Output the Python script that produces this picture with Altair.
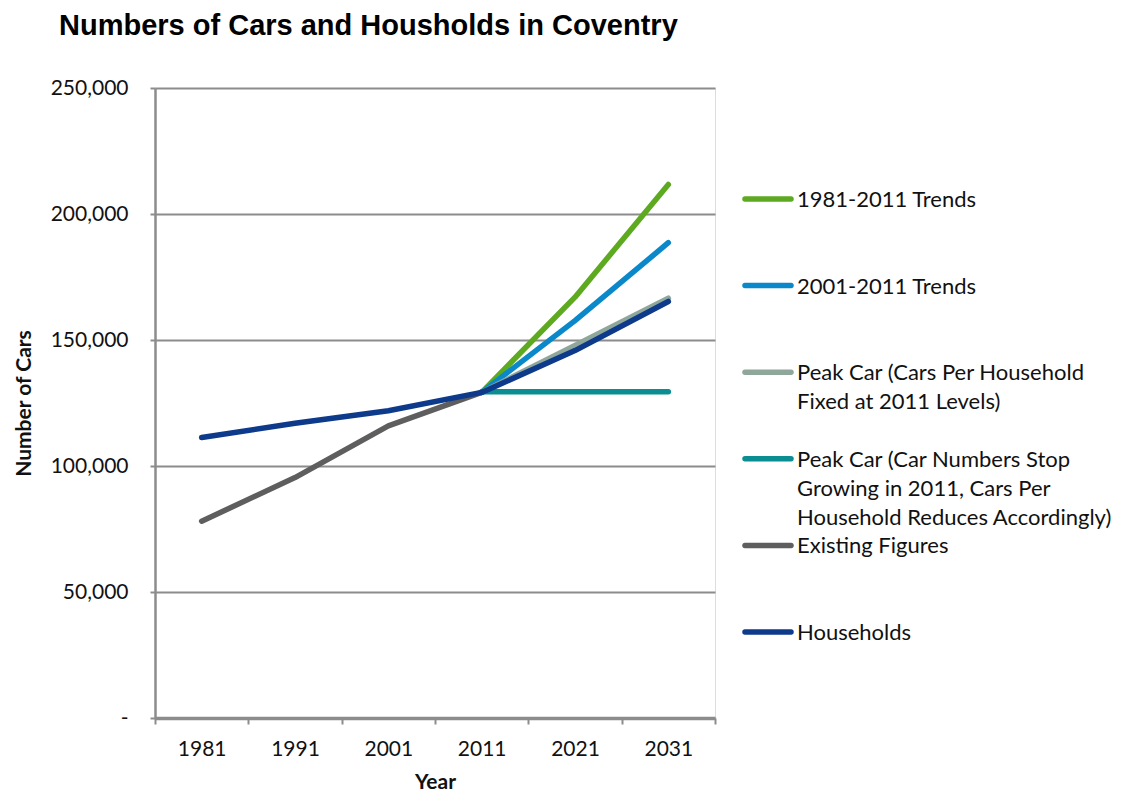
import altair as alt
import pandas as pd

# ---- data ----
years = ["1981", "1991", "2001", "2011", "2021", "2031"]
series_names = [
    "1981-2011 Trends",
    "2001-2011 Trends",
    "Peak Car (Cars Per Household Fixed at 2011 Levels)",
    "Peak Car (Car Numbers Stop Growing in 2011, Cars Per Household Reduces Accordingly)",
    "Existing Figures",
    "Households",
]
legend_labels = [
    "1981-2011 Trends",
    "2001-2011 Trends",
    "Peak Car (Cars Per Household\nFixed at 2011 Levels)",
    "Peak Car (Car Numbers Stop\nGrowing in 2011, Cars Per\nHousehold Reduces Accordingly)",
    "Existing Figures",
    "Households",
]
colors = ["#5DA920", "#0A88C9", "#8FA69B", "#0B8E92", "#5E5E5E", "#0D3A8A"]

trend_1981_2011 = [None, None, None, 129200, 167000, 211700]
trend_2001_2011 = [None, None, None, 129200, 157700, 188600]
peak_fixed = [None, None, None, 129200, 147800, 166600]
peak_stop = [None, None, None, 129500, 129500, 129500]
existing = [78100, 95400, 115900, 129200, None, None]
households = [111300, 117000, 121900, 129200, 145800, 165300]

all_values = [trend_1981_2011, trend_2001_2011, peak_fixed, peak_stop, existing, households]

rows = []
for name, vals in zip(series_names, all_values):
    for y, v in zip(years, vals):
        if v is not None:
            rows.append({"series": name, "year": y, "value": v})
df = pd.DataFrame(rows)

leg_df = pd.DataFrame({
    "series": series_names,
    "label": legend_labels,
    "row": list(range(len(series_names))),
})

LABEL_FONT = "Lato"
GRID = "#8C8C8C"

x_enc = alt.X(
    "year:O",
    scale=alt.Scale(type="band", domain=years, paddingInner=0, paddingOuter=0),
    bandPosition=0.5,
    axis=alt.Axis(
        title="Year",
        labelAngle=0,
        tickBand="extent",
        tickSize=6,
        tickWidth=2,
        tickColor=GRID,
        domainColor=GRID,
        domainWidth=3.5,
        labelPadding=14,
        labelFont=LABEL_FONT,
        labelFontSize=21,
        labelColor="#111111",
        titleFont=LABEL_FONT,
        titleFontSize=21,
        titleFontWeight="bold",
        titleColor="#111111",
        titlePadding=12,
        grid=False,
    ),
)

y_enc = alt.Y(
    "value:Q",
    scale=alt.Scale(domain=[0, 250000], nice=False),
    axis=alt.Axis(
        title="Number of Cars",
        values=[0, 50000, 100000, 150000, 200000, 250000],
        labelExpr="datum.value == 0 ? '-\u2007\u2007' : format(datum.value, ',')",
        tickSize=5,
        tickWidth=2,
        tickColor=GRID,
        domainColor=GRID,
        domainWidth=2.5,
        grid=True,
        gridColor=GRID,
        gridWidth=2,
        labelPadding=22,
        labelFont=LABEL_FONT,
        labelFontSize=21,
        labelColor="#111111",
        titleFont=LABEL_FONT,
        titleFontSize=21,
        titleFontWeight="bold",
        titleColor="#111111",
        titleX=-121,
    ),
)

line_layers = []
for name, col in zip(series_names, colors):
    line_layers.append(
        alt.Chart(df)
        .transform_filter(alt.datum.series == name)
        .mark_line(color=col, strokeWidth=5.5, strokeCap="round", strokeJoin="round")
        .encode(x=x_enc, y=y_enc)
    )
main = alt.layer(*line_layers)

leg_y = alt.Y("row:Q", scale=alt.Scale(domain=[0, 5], range=[111, 544]), axis=None)
leg_color = alt.Color("series:N", scale=alt.Scale(domain=series_names, range=colors), legend=None)

leg_rules = alt.Chart(leg_df).mark_rule(strokeWidth=5.5, strokeCap="round").encode(
    x=alt.value(590), x2=alt.value(636), y=leg_y, color=leg_color
)
leg_text = alt.Chart(leg_df).mark_text(
    align="left", baseline="alphabetic", dy=8, lineBreak="\n", lineHeight=29,
    font=LABEL_FONT, fontSize=22, color="#111111"
).encode(x=alt.value(642), y=leg_y, text="label:N")

chart = (
    alt.layer(main, leg_rules, leg_text)
    .resolve_scale(y="independent")
    .properties(
        width=560,
        height=630,
        padding={"left": 5, "top": 4, "right": 0, "bottom": 0},
        title=alt.TitleParams(
            "Numbers of Cars and Housholds in Coventry",
            anchor="start",
            frame="group",
            dx=-96,
            offset=36,
            font="Liberation Sans",
            fontSize=29,
            fontWeight="bold",
            color="#000000",
        ),
    )
    .configure_view(stroke=None)
    .configure(background="white")
)

chart.save("out.html", embed_options={"renderer": "svg", "actions": False})
